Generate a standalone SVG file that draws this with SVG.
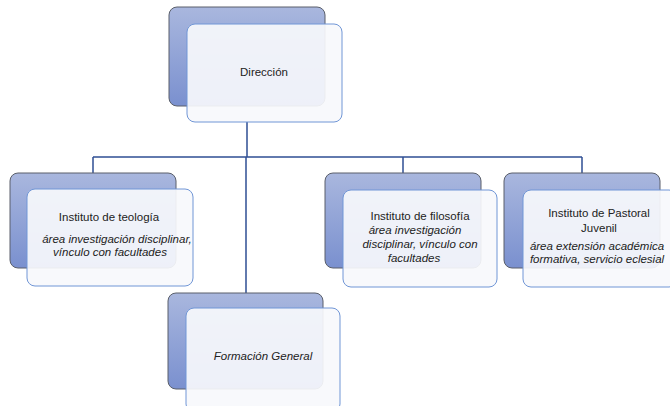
<svg xmlns="http://www.w3.org/2000/svg" width="670" height="406" viewBox="0 0 670 406">
<defs>
<linearGradient id="bg" x1="0" y1="0" x2="0" y2="1">
<stop offset="0" stop-color="#a9b7de"/>
<stop offset="1" stop-color="#7a90cf"/>
</linearGradient>
<style>
.back{fill:url(#bg);stroke:#5a5f6a;stroke-width:1}
.front{fill:#f7f8fc;fill-opacity:0.92;stroke:#7096d6;stroke-width:1}
.t{font-family:"Liberation Sans",Arial,sans-serif;font-size:11.5px;fill:#222;text-anchor:middle}
.i{font-style:italic}
.c{fill:none;stroke:#2f4f94;stroke-width:1.5}
</style>
</defs>
<rect width="670" height="406" fill="#ffffff"/>
<g id="connectors">
<path class="c" d="M247 122V157M93 157H582M93 157V173M403 157V173M582 157V173M246 157V293"/>
</g>
<g id="direccion">
<rect class="back" x="169" y="7" width="156" height="99" rx="8"/>
<rect class="front" x="187" y="24" width="155" height="98" rx="8"/>
<text class="t" x="264" y="76">Dirección</text>
</g>
<g id="teologia">
<rect class="back" x="10" y="173" width="166" height="95" rx="8"/>
<rect class="front" x="27" y="189" width="166" height="97" rx="8"/>
<text class="t" x="109" y="221">Instituto de teología</text>
<text class="t i" x="117" y="243">área investigación disciplinar,</text>
<text class="t i" x="110" y="256">vínculo con facultades</text>
</g>
<g id="filosofia">
<rect class="back" x="325" y="173" width="156" height="95" rx="8"/>
<rect class="front" x="343" y="190" width="154" height="97" rx="8"/>
<text class="t" x="420" y="220">Instituto de filosofía</text>
<text class="t i" x="415" y="234">área investigación</text>
<text class="t i" x="420" y="248">disciplinar, vínculo con</text>
<text class="t i" x="414" y="262">facultades</text>
</g>
<g id="pastoral">
<rect class="back" x="504" y="173" width="156" height="95" rx="8"/>
<rect class="front" x="523" y="190" width="154" height="97" rx="8"/>
<text class="t" x="599" y="217">Instituto de Pastoral</text>
<text class="t" x="599" y="232">Juvenil</text>
<text class="t i" x="597" y="250">área extensión académica</text>
<text class="t i" x="597" y="263">formativa, servicio eclesial</text>
</g>
<g id="formacion">
<rect class="back" x="168" y="293" width="155" height="96" rx="8"/>
<rect class="front" x="186" y="308" width="154" height="104" rx="8"/>
<text class="t i" x="263" y="360">Formación General</text>
</g>
</svg>
